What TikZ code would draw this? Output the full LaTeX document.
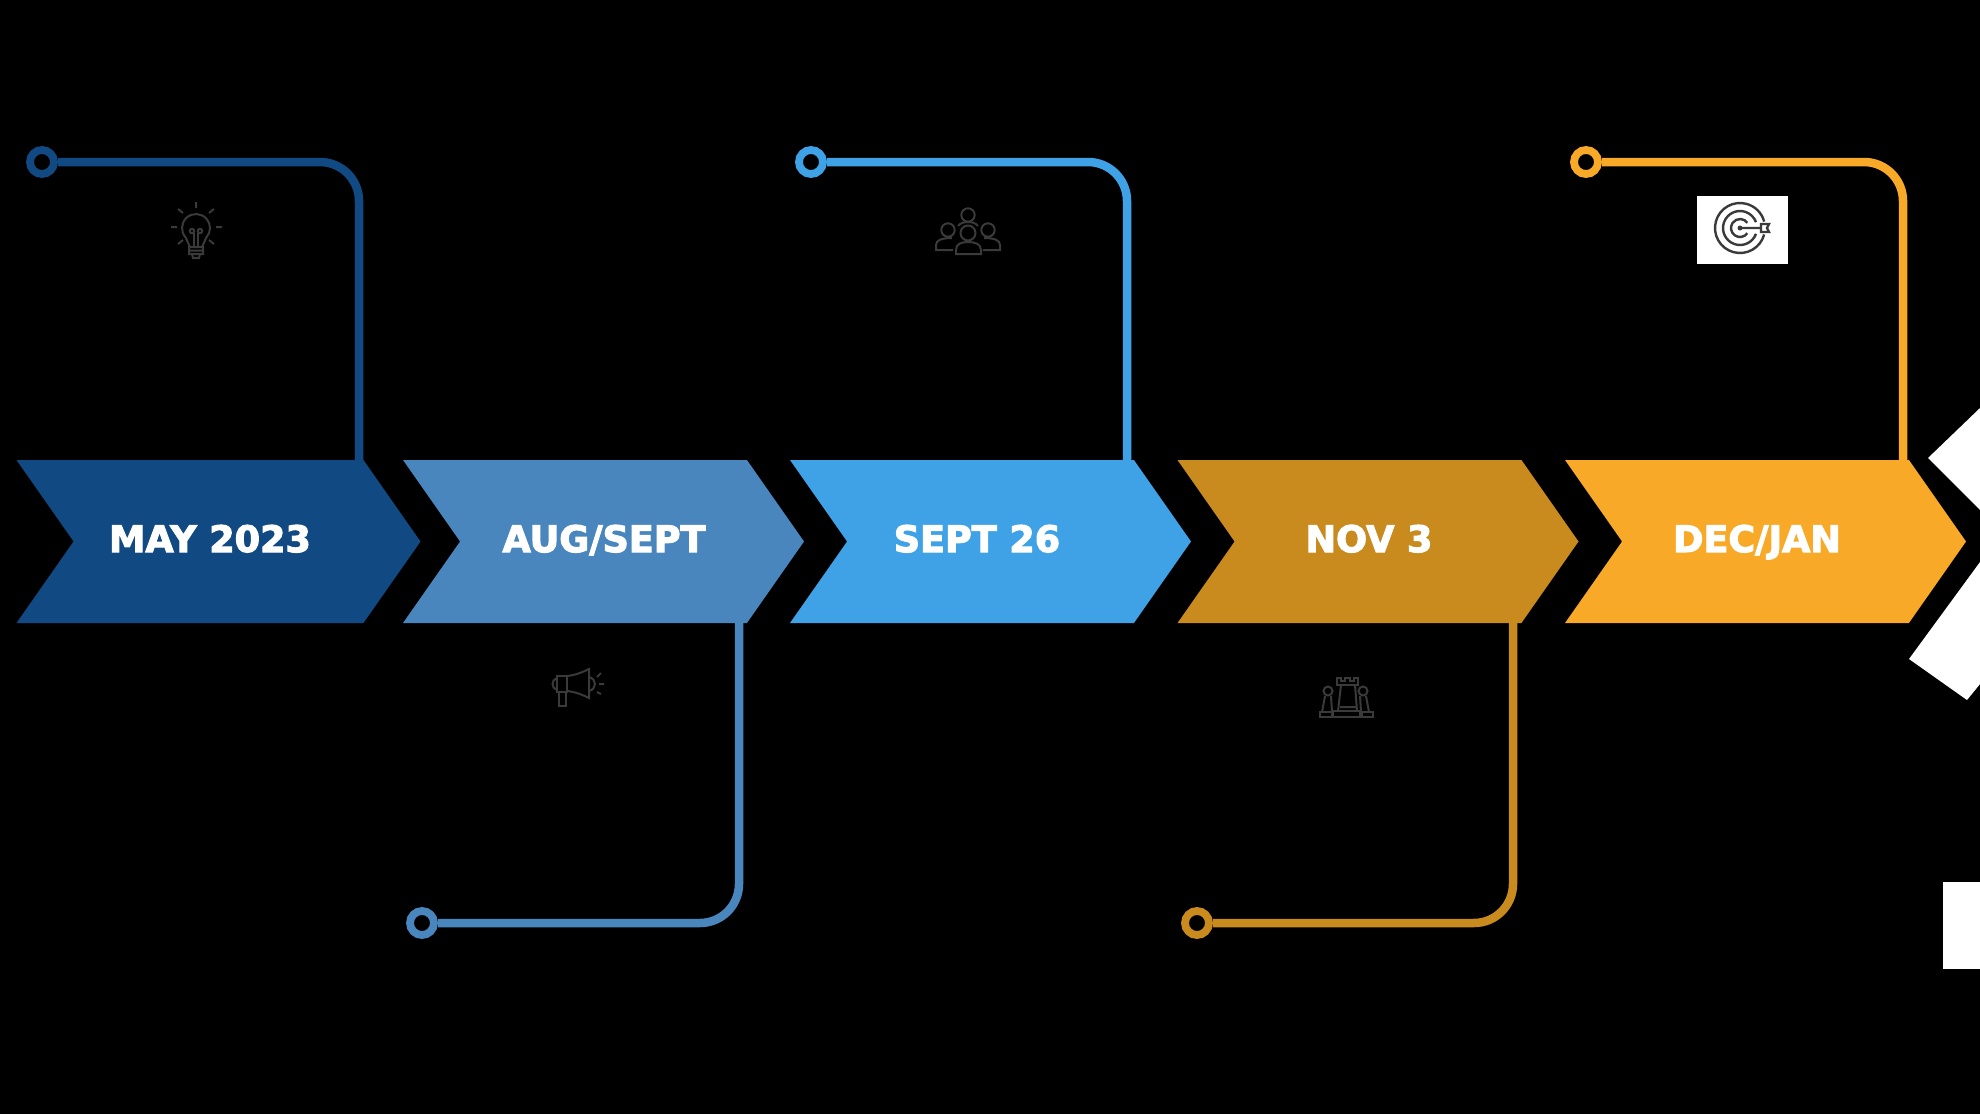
\documentclass[tikz,border=0pt]{standalone}
\usepackage{xcolor}
\usepackage{fontspec}
\setmainfont{DejaVu Sans}[BoldFeatures={FakeBold=3}]
\usetikzlibrary{shapes,positioning,calc}
\definecolor{navyc}{HTML}{114A82}
\definecolor{steelc}{HTML}{4A86BE}
\definecolor{skyc}{HTML}{3FA2E6}
\definecolor{ochrec}{HTML}{C98A1E}
\definecolor{amberc}{HTML}{F8A928}
\definecolor{iconc}{HTML}{3A3A3A}
\tikzstyle{chevron} = [signal, signal from=west, signal to=east, signal pointer angle=110, minimum width=401pt, minimum height=163pt, inner sep=0pt, outer sep=0pt]
\tikzstyle{date} = [anchor=base, text=white, font=\bfseries\fontsize{36.5}{40}\selectfont, inner sep=0pt]
\tikzstyle{ring} = [circle, draw, line width=7.8pt, minimum size=24pt, inner sep=0pt]
\tikzstyle{link} = [line width=8.5pt, rounded corners=39pt]

\begin{document}
\begin{tikzpicture}[x=1pt, y=-1pt, icon/.style={draw=iconc, line width=2pt}]
    \useasboundingbox (0,0) rectangle (1980,1114);
    \fill[black] (0,0) rectangle (1980,1114);

    % Nodes (Chevrons)
    \node[chevron, minimum width=404pt, fill=navyc] (may) at (218.5,541.5) {};
    \node[chevron, fill=steelc] (aug) at (603.5,541.5) {};
    \node[chevron, fill=skyc] (sept) at (990.5,541.5) {};
    \node[chevron, fill=ochrec] (nov) at (1378,541.5) {};
    \node[chevron, fill=amberc] (dec) at (1765.5,541.5) {};

    % Dates
    \node[date] (maytext) at (210,552) {MAY 2023};
    \node[date] (augtext) at (604,552) {AUG/SEPT};
    \node[date] (septtext) at (977,552) {SEPT 26};
    \node[date] (novtext) at (1369,552) {NOV 3};
    \node[date] (dectext) at (1757,552) {DEC/JAN};

    % Rings
    \node[ring, draw=navyc] (mayring) at (42,162) {};
    \node[ring, draw=steelc] (augring) at (422,923) {};
    \node[ring, draw=skyc] (septring) at (811,162) {};
    \node[ring, draw=ochrec] (novring) at (1197,923) {};
    \node[ring, draw=amberc] (decring) at (1586,162) {};

    % Where the lines meet the chevrons
    \coordinate (mayjoin) at (359,462);
    \coordinate (augjoin) at (739,621);
    \coordinate (septjoin) at (1127,462);
    \coordinate (novjoin) at (1513,621);
    \coordinate (decjoin) at (1903,462);

    % Lines
    \draw[link, navyc] (mayring.east) -- (mayring.east -| mayjoin) -- (mayjoin);
    \draw[link, steelc] (augring.east) -- (augring.east -| augjoin) -- (augjoin);
    \draw[link, skyc] (septring.east) -- (septring.east -| septjoin) -- (septjoin);
    \draw[link, ochrec] (novring.east) -- (novring.east -| novjoin) -- (novjoin);
    \draw[link, amberc] (decring.east) -- (decring.east -| decjoin) -- (decjoin);

    % White pieces on the right edge
    \fill[white] (1928,458) -- (1980,408) -- (1980,510) -- cycle;
    \fill[white] (1909,659) -- (1980,562) -- (1980,684) -- (1967,700) -- cycle;
    \fill[white] (1943,882) rectangle (1980,969);
    \fill[white] (1697,196) rectangle (1788,264);

    % Bulb
    \draw[icon] (190,247) -- (185.6,237.4) arc[start angle=138, end angle=402, radius=14] -- (202,247);
    \draw[icon] (189,247) rectangle (203,254) (189,250.5) -- (203,250.5) (192,254) -- (193,258) -- (199,258) -- (200,254);
    \draw[icon] (194,247) -- (194,233) (198,247) -- (198,233);
    \draw[icon] (192,231) circle (2.2) (200,231) circle (2.2);
    \draw[icon] (196,202) -- (196,208) (171,227) -- (177,227) (216,227) -- (222,227) (178,209) -- (183,213) (214,209) -- (209,213) (178,244) -- (183,240) (214,244) -- (209,240);

    % Megaphone
    \draw[icon] (557,676) rectangle (567,692);
    \draw[icon] (567,676) .. controls (576,675) and (583,672) .. (589,669) -- (589,698) .. controls (583,695) and (576,692) .. (567,691);
    \draw[icon] (557,678) .. controls (551,680) and (551,688) .. (557,690);
    \draw[icon] (559,692) rectangle (566,706);
    \draw[icon] (589,677) .. controls (597,679) and (597,689) .. (589,691);
    \draw[icon] (597,677) -- (601,673) (599,684) -- (604,684) (597,692) -- (601,694);

    % People
    \draw[icon] (968,215) circle (6.7) (948,230) circle (6.7) (988,230) circle (6.7) (968,233) circle (7.5);
    \draw[icon] (956,254) -- (956,250) .. controls (956,244) and (961,242) .. (968,242) .. controls (975,242) and (981,244) .. (981,250) -- (981,254) -- cycle;
    \draw[icon] (953,250) -- (936,250) -- (936,245) .. controls (936,240) and (942,238) .. (952,238);
    \draw[icon] (983,250) -- (1000,250) -- (1000,245) .. controls (1000,240) and (994,238) .. (984,238);
    \draw[icon] (958,226) .. controls (960,223) and (964,222) .. (968,222) .. controls (972,222) and (976,223) .. (978,226);

    % Chess pieces
    \draw[icon] (1333,711) rectangle (1360,717);
    \draw[icon] (1337,685) -- (1337,678) -- (1341,678) -- (1341,681) -- (1345,681) -- (1345,678) -- (1350,678) -- (1350,681) -- (1354,681) -- (1354,678) -- (1358,678) -- (1358,685) -- cycle;
    \draw[icon] (1341,685) -- (1338,711) (1355,685) -- (1357,711) (1340,707) -- (1356,707);
    \draw[icon] (1328,691) circle (4.5) (1363,691) circle (4.5);
    \draw[icon] (1320,712) rectangle (1332,717) (1362,712) rectangle (1373,717);
    \draw[icon] (1325,696) -- (1322,712) (1331,696) -- (1332,712) (1360,696) -- (1361,712) (1366,696) -- (1369,712);

    % Target
    \begin{scope}[shift={(1740,228)}]
        \draw[icon, line width=2.4pt] (15:25) arc[start angle=15, end angle=345, radius=25];
        \draw[icon, line width=2.4pt] (20:17) arc[start angle=20, end angle=340, radius=17];
        \draw[icon, line width=2.4pt] (35:9) arc[start angle=35, end angle=325, radius=9];
        \fill[iconc] (0,0) circle (2.5);
        \draw[icon, line width=2.4pt] (0,0) -- (21,0) (21,-4) -- (29,-4) -- (27,0) -- (29,4) -- (21,4) -- cycle;
    \end{scope}
\end{tikzpicture}
\end{document}
